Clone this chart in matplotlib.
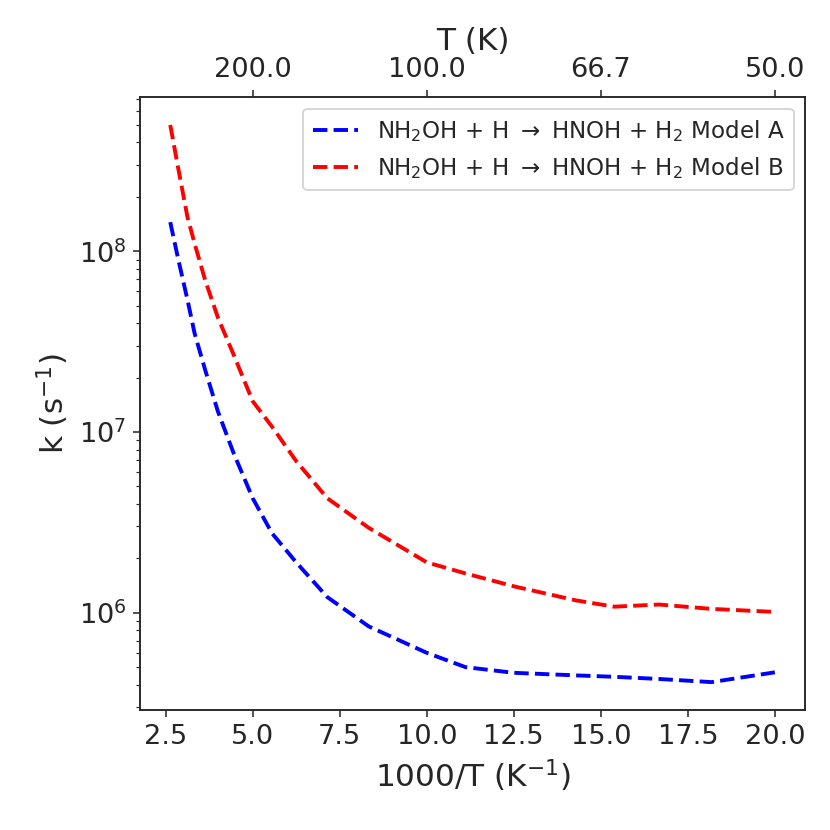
import numpy as np
import matplotlib
matplotlib.use("Agg")
import matplotlib.pyplot as plt

# temperatures (K) and rate constants (s^-1)
T = [380, 350, 320, 300, 275, 250, 225, 200, 180, 160, 140, 120,
     100, 90, 80, 70, 65, 60, 55, 50]
k_model_a = [1.45e8, 9.1e7, 5.4e7, 3.5e7, 2.2e7, 1.3e7, 7.7e6, 4.3e6,
             2.75e6, 1.9e6, 1.22e6, 8.4e5, 6.0e5, 5.0e5, 4.65e5, 4.5e5,
             4.42e5, 4.3e5, 4.13e5, 4.68e5]
k_model_b = [5.0e8, 2.9e8, 1.55e8, 1.1e8, 6.9e7, 4.3e7, 2.7e7, 1.48e7,
             1.07e7, 6.9e6, 4.3e6, 2.95e6, 1.9e6, 1.65e6, 1.4e6, 1.17e6,
             1.08e6, 1.11e6, 1.05e6, 1.01e6]
T_ticks = [200.0, 100.0, 66.7, 50.0]

label_a = r"NH$_2$OH + H $\rightarrow$ HNOH + H$_2$ Model A"
label_b = r"NH$_2$OH + H $\rightarrow$ HNOH + H$_2$ Model B"

txt = "#262626"
plt.rcParams.update({
    "text.color": txt, "axes.labelcolor": txt, "axes.edgecolor": txt,
    "xtick.color": txt, "ytick.color": txt,
})

dpi = 140
fig = plt.figure(figsize=(830 / dpi, 830 / dpi), dpi=dpi)
ax = fig.add_axes([0.1687, 0.1446, 0.8013, 0.7384])

x = 1000.0 / np.array(T)
ax.plot(x, k_model_a, "--", color="blue", lw=2, label=label_a)
ax.plot(x, k_model_b, "--", color="red", lw=2, label=label_b)
ax.set_yscale("log")
ax.set_xlabel(r"1000/T (K$^{-1}$)", fontsize=16)
ax.set_ylabel(r"k (s$^{-1}$)", fontsize=16)
ax.tick_params(labelsize=14)
ax.legend(loc="upper right", fontsize=11.8)

# top axis in temperature
ax2 = ax.twiny()
ax2.set_xlim(ax.get_xlim())
ax2.set_xticks([1000.0 / t for t in T_ticks])
ax2.set_xticklabels(["%.1f" % t for t in T_ticks])
ax2.tick_params(labelsize=14)
ax2.set_xlabel("T (K)", fontsize=16)

fig.savefig("out.png", dpi=dpi)
